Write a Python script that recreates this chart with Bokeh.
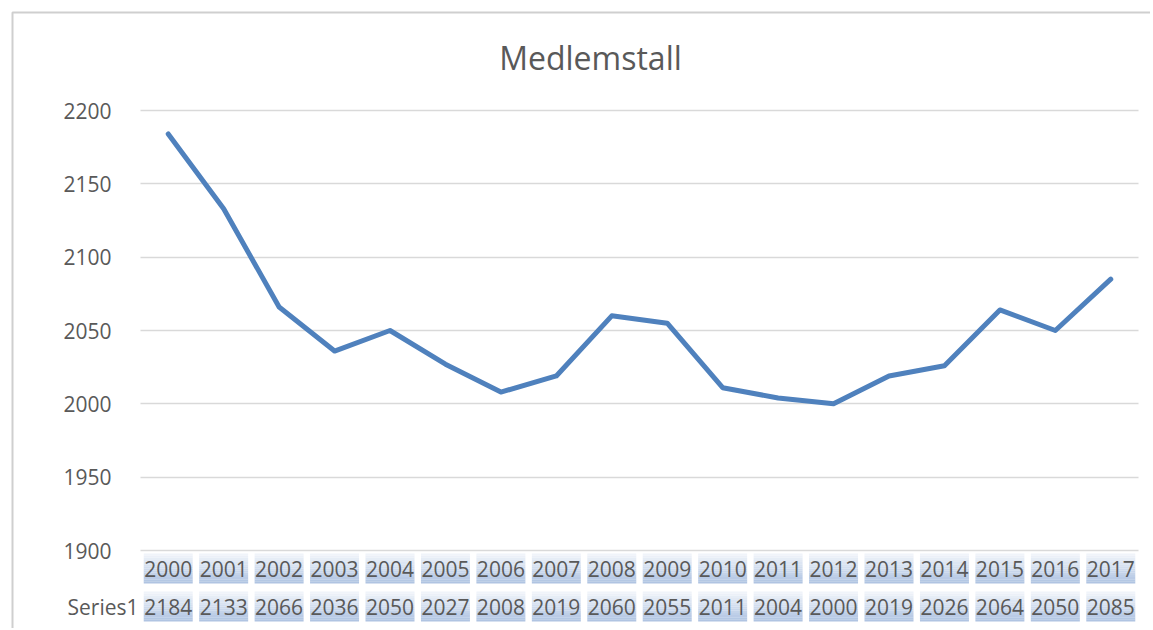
from bokeh.plotting import figure
from bokeh.models import Range1d, FixedTicker, Label, BoxAnnotation, ColumnDataSource, Grid
from bokeh.core.properties import value
from bokeh.embed import file_html
from bokeh.resources import INLINE

years = ["2000", "2001", "2002", "2003", "2004", "2005", "2006", "2007", "2008",
         "2009", "2010", "2011", "2012", "2013", "2014", "2015", "2016", "2017"]
members = [2184, 2133, 2066, 2036, 2050, 2027, 2008, 2019, 2060,
           2055, 2011, 2004, 2000, 2019, 2026, 2064, 2050, 2085]
y_ticks = [1900, 1950, 2000, 2050, 2100, 2150, 2200]
series_name = "Series1"
title_text = "Medlemstall"

FONT = "Open Sans"
TXT = "#595959"
LINE = "#4f81bd"

# page geometry (pixels)
W, H = 1150, 628
plot_l, plot_r = 140, 1138
plot_t, plot_b = 110, 550
n = len(years)
xs = list(range(n))
cw = (plot_r - plot_l) / n                      # px per category
ppu = (plot_b - plot_t) / (y_ticks[-1] - y_ticks[0])   # px per y unit

def dx(px):  # page x -> data x
    return -0.5 + (px - plot_l) / cw

def dy(py):  # page y -> data y
    return y_ticks[-1] - (py - plot_t) / ppu

p = figure(width=W, height=H, output_backend="svg", toolbar_location=None, title=None,
           x_range=Range1d(dx(0), dx(W)), y_range=Range1d(dy(H), dy(0)),
           min_border=0)
p.min_border_left = p.min_border_right = p.min_border_top = p.min_border_bottom = 0
p.outline_line_color = None
p.background_fill_color = "white"
p.border_fill_color = "white"

p.xaxis.visible = False
p.xgrid.visible = False
p.yaxis.fixed_location = -0.5
p.yaxis.ticker = FixedTicker(ticks=y_ticks)
p.yaxis.axis_line_color = None
p.yaxis.major_tick_line_color = None
p.yaxis.minor_tick_line_color = None
p.yaxis.major_label_text_font = FONT
p.yaxis.major_label_text_font_size = "21px"
p.yaxis.major_label_text_color = TXT
p.yaxis.major_label_standoff = 23

GRID_C = "#d9d9d9"
if "cross_bounds" in Grid.properties():
    p.ygrid.ticker = FixedTicker(ticks=y_ticks)
    p.ygrid.grid_line_color = GRID_C
    p.ygrid.grid_line_width = 1.5
    p.ygrid.cross_bounds = (-0.5, n - 0.5)
else:
    p.ygrid.visible = False
    p.segment(x0=[-0.5] * len(y_ticks), x1=[n - 0.5] * len(y_ticks), y0=y_ticks, y1=y_ticks,
              line_color=GRID_C, line_width=1.5)

# chart-area border (only top and left edges fall inside the page)
p.add_layout(BoxAnnotation(left=dx(12), top=dy(12), right=dx(W + 40), bottom=dy(H + 40),
                           fill_color=None, fill_alpha=0, line_color="#cfcfcf",
                           line_width=2, line_alpha=1.0, level="overlay"))

# title
p.add_layout(Label(x=dx(590), y=dy(57), text=title_text, text_font=FONT,
                   text_font_size="32px", text_color=TXT, text_align="center",
                   text_baseline="middle"))

# data table cells with a vertical gradient
def hexmix(c1, c2, t):
    a = [int(c1[i:i + 2], 16) for i in (1, 3, 5)]
    b = [int(c2[i:i + 2], 16) for i in (1, 3, 5)]
    return "#%02x%02x%02x" % tuple(round(a[k] + (b[k] - a[k]) * t) for k in range(3))

top_c, bot_c = "#f3f6fb", "#adc2e1"
bands = 14
rows = [(553, 583), (591, 621)]  # page y extents of the two table rows
for (r0, r1) in rows:
    for b in range(bands):
        bt = dy(r0 + (r1 - r0) * b / bands)
        bb = dy(r0 + (r1 - r0) * (b + 1) / bands)
        col = hexmix(top_c, bot_c, (b + 0.5) / bands)
        p.vbar(x=xs, top=bt, bottom=bb, width=49 / cw, fill_color=col, line_color=None)

row1_y = dy(sum(rows[0]) / 2)
row2_y = dy(sum(rows[1]) / 2)
src = ColumnDataSource(dict(x=xs, years=years, vals=[str(v) for v in members],
                            y1=[row1_y] * n, y2=[row2_y] * n))
p.text(x="x", y="y1", text="years", source=src, text_font=value(FONT),
       text_font_size="21px", text_color=TXT, text_align="center", text_baseline="middle")
p.text(x="x", y="y2", text="vals", source=src, text_font=value(FONT),
       text_font_size="21px", text_color=TXT, text_align="center", text_baseline="middle")
p.text(x=[-0.5], y=[row2_y], text=[series_name], x_offset=-2, text_font=value(FONT),
       text_font_size="21px", text_color=TXT, text_align="right", text_baseline="middle")

p.line(xs, members, line_color=LINE, line_width=5, line_cap="round", line_join="round")

open("out.html", "w").write(file_html(p, INLINE))
